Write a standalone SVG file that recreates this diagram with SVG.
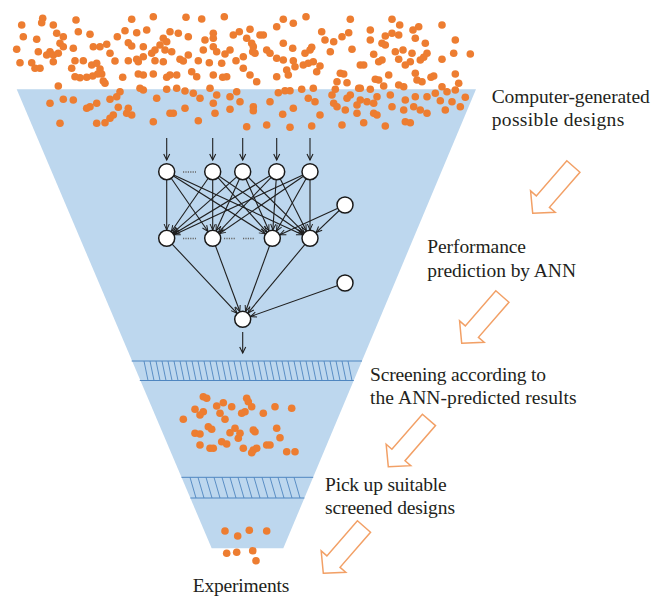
<svg xmlns="http://www.w3.org/2000/svg" width="654" height="596" viewBox="0 0 654 596">
<style>
.funnel{fill:#BDD7EE;stroke:none}
.d{fill:#ED7D31}
.band{stroke:#4F86C0;stroke-width:1;fill:none}
.hatch{stroke:#4F86C0;stroke-width:0.9}
.node{fill:#fff;stroke:#1a1a1a;stroke-width:1.5}
.conn{stroke:#1f1f1f;stroke-width:1.1;fill:none}
.dots{stroke:#666;stroke-width:1.3;stroke-dasharray:1.2 1.2;fill:none}
.arrow{fill:#fff;stroke:#F2A066;stroke-width:1.5;stroke-linejoin:miter}
.lbl{font-family:"Liberation Serif","Times New Roman",serif;font-size:19.5px;fill:#231F20}
</style>
<defs>
<marker id="ah" markerUnits="userSpaceOnUse" markerWidth="40" markerHeight="20" viewBox="-20 -10 40 20" refX="8.3" refY="0" orient="auto" overflow="visible">
<path d="M-6,-2.6 L0,0 L-6,2.6" fill="none" stroke="#1f1f1f" stroke-width="1"/>
</marker>
<marker id="ah0" markerUnits="userSpaceOnUse" markerWidth="40" markerHeight="20" viewBox="-20 -10 40 20" refX="0" refY="0" orient="auto" overflow="visible">
<path d="M-6,-3 L0,0 L-6,3" fill="none" stroke="#1f1f1f" stroke-width="1.1"/>
</marker>
<polygon id="blk" points="0,0 -15.5,-16.3 -15.5,-8.7 -62,-8.7 -62,8.7 -15.5,8.7 -15.5,16.3"/>
</defs>

<g id="funnel">
<polygon class="funnel" points="16.7,89.3 476,89.3 283.3,548.3 211.7,548.3"/>
</g>

<g id="band1">
<line class="band" x1="131.7" y1="361" x2="362" y2="361"/>
<line class="band" x1="139.8" y1="380.5" x2="353.8" y2="380.5"/>
<path class="hatch" d="M144,361l4,19.5M150,361l4,19.5M156,361l4,19.5M162,361l4,19.5M168,361l4,19.5M174,361l4,19.5M180,361l4,19.5M186,361l4,19.5M192,361l4,19.5M198,361l4,19.5M204,361l4,19.5M210,361l4,19.5M216,361l4,19.5M222,361l4,19.5M228,361l4,19.5M234,361l4,19.5M240,361l4,19.5M246,361l4,19.5M252,361l4,19.5M258,361l4,19.5M264,361l4,19.5M270,361l4,19.5M276,361l4,19.5M282,361l4,19.5M288,361l4,19.5M294,361l4,19.5M300,361l4,19.5M306,361l4,19.5M312,361l4,19.5M318,361l4,19.5M324,361l4,19.5M330,361l4,19.5M336,361l4,19.5M342,361l4,19.5M348,361l4,19.5"/>
</g>

<g id="band2">
<line class="band" x1="181.5" y1="477.3" x2="313.2" y2="477.3"/>
<line class="band" x1="190.4" y1="498" x2="304.4" y2="498"/>
<path class="hatch" d="M190,477.3l6,20.7M198,477.3l6,20.7M206,477.3l6,20.7M214,477.3l6,20.7M222,477.3l6,20.7M230,477.3l6,20.7M238,477.3l6,20.7M246,477.3l6,20.7M254,477.3l6,20.7M262,477.3l6,20.7M270,477.3l6,20.7M278,477.3l6,20.7M286,477.3l6,20.7M294,477.3l6,20.7"/>
</g>

<g id="designs-top">
<circle class="d" r="3.8" cx="42.7" cy="18.3"/><circle class="d" r="3.8" cx="41.7" cy="22.7"/><circle class="d" r="3.8" cx="21.7" cy="25"/><circle class="d" r="3.8" cx="53.3" cy="25"/><circle class="d" r="3.8" cx="76" cy="20"/><circle class="d" r="3.8" cx="131.7" cy="19.3"/><circle class="d" r="3.8" cx="153.3" cy="16.7"/><circle class="d" r="3.8" cx="186" cy="17.3"/><circle class="d" r="3.8" cx="201.7" cy="19"/><circle class="d" r="3.8" cx="224.3" cy="16.7"/><circle class="d" r="3.8" cx="283.3" cy="19.3"/><circle class="d" r="3.8" cx="306" cy="16.7"/><circle class="d" r="3.8" cx="293.3" cy="23.3"/><circle class="d" r="3.8" cx="276.7" cy="26.7"/><circle class="d" r="3.8" cx="250" cy="29.3"/><circle class="d" r="3.8" cx="239.3" cy="31.7"/><circle class="d" r="3.8" cx="213.3" cy="33.3"/><circle class="d" r="3.8" cx="233.3" cy="35"/><circle class="d" r="3.8" cx="260" cy="35"/><circle class="d" r="3.8" cx="263.3" cy="35"/><circle class="d" r="3.8" cx="170" cy="31.7"/><circle class="d" r="3.8" cx="178.3" cy="33.3"/><circle class="d" r="3.8" cx="146.7" cy="30"/><circle class="d" r="3.8" cx="125" cy="30.7"/><circle class="d" r="3.8" cx="136.7" cy="32.7"/><circle class="d" r="3.8" cx="78.3" cy="31.7"/><circle class="d" r="3.8" cx="90" cy="34.3"/><circle class="d" r="3.8" cx="56.7" cy="33.3"/><circle class="d" r="3.8" cx="63.3" cy="36.7"/><circle class="d" r="3.8" cx="36.7" cy="39.3"/><circle class="d" r="3.8" cx="23.3" cy="36.7"/><circle class="d" r="3.8" cx="188.3" cy="36.7"/><circle class="d" r="3.8" cx="205" cy="40"/><circle class="d" r="3.8" cx="213.3" cy="38.3"/><circle class="d" r="3.8" cx="163.3" cy="38.3"/><circle class="d" r="3.8" cx="166.7" cy="41.7"/><circle class="d" r="3.8" cx="160" cy="45"/><circle class="d" r="3.8" cx="106.7" cy="44.3"/><circle class="d" r="3.8" cx="100" cy="46.7"/><circle class="d" r="3.8" cx="93.3" cy="46.7"/><circle class="d" r="3.8" cx="73.3" cy="48.3"/><circle class="d" r="3.8" cx="60" cy="43.3"/><circle class="d" r="3.8" cx="63.3" cy="46.7"/><circle class="d" r="3.8" cx="50" cy="51.7"/><circle class="d" r="3.8" cx="53.3" cy="55"/><circle class="d" r="3.8" cx="58.3" cy="53.3"/><circle class="d" r="3.8" cx="38.3" cy="51.7"/><circle class="d" r="3.8" cx="16.7" cy="49.3"/><circle class="d" r="3.8" cx="20" cy="62.7"/><circle class="d" r="3.8" cx="31.7" cy="62.7"/><circle class="d" r="3.8" cx="35" cy="68.3"/><circle class="d" r="3.8" cx="40" cy="68.3"/><circle class="d" r="3.8" cx="53.3" cy="61.7"/><circle class="d" r="3.8" cx="46.7" cy="55"/><circle class="d" r="3.8" cx="75" cy="60.7"/><circle class="d" r="3.8" cx="83.3" cy="60.7"/><circle class="d" r="3.8" cx="91.7" cy="65"/><circle class="d" r="3.8" cx="96.7" cy="63.3"/><circle class="d" r="3.8" cx="100" cy="69"/><circle class="d" r="3.8" cx="71.7" cy="68.3"/><circle class="d" r="3.8" cx="115" cy="61"/><circle class="d" r="3.8" cx="128.3" cy="60.7"/><circle class="d" r="3.8" cx="138.3" cy="61.7"/><circle class="d" r="3.8" cx="143.3" cy="56.7"/><circle class="d" r="3.8" cx="136.7" cy="59.3"/><circle class="d" r="3.8" cx="155" cy="60.7"/><circle class="d" r="3.8" cx="163.3" cy="61.7"/><circle class="d" r="3.8" cx="180" cy="59.3"/><circle class="d" r="3.8" cx="183.3" cy="61"/><circle class="d" r="3.8" cx="198.3" cy="60.7"/><circle class="d" r="3.8" cx="209.3" cy="62.7"/><circle class="d" r="3.8" cx="221.7" cy="63.3"/><circle class="d" r="3.8" cx="236" cy="60.7"/><circle class="d" r="3.8" cx="243.3" cy="56.7"/><circle class="d" r="3.8" cx="252.7" cy="51.7"/><circle class="d" r="3.8" cx="255" cy="53.3"/><circle class="d" r="3.8" cx="266.7" cy="50"/><circle class="d" r="3.8" cx="270" cy="53.3"/><circle class="d" r="3.8" cx="276.7" cy="58.3"/><circle class="d" r="3.8" cx="283.3" cy="60"/><circle class="d" r="3.8" cx="293.3" cy="60.7"/><circle class="d" r="3.8" cx="295" cy="66.7"/><circle class="d" r="3.8" cx="303.3" cy="65"/><circle class="d" r="3.8" cx="286.7" cy="70"/><circle class="d" r="3.8" cx="288.3" cy="75"/><circle class="d" r="3.8" cx="276.7" cy="76.7"/><circle class="d" r="3.8" cx="256.7" cy="81.7"/><circle class="d" r="3.8" cx="250" cy="75"/><circle class="d" r="3.8" cx="243.3" cy="68.3"/><circle class="d" r="3.8" cx="226.7" cy="76.7"/><circle class="d" r="3.8" cx="222.7" cy="77.3"/><circle class="d" r="3.8" cx="213.3" cy="75"/><circle class="d" r="3.8" cx="196.7" cy="76.7"/><circle class="d" r="3.8" cx="191.7" cy="71.7"/><circle class="d" r="3.8" cx="176.7" cy="75"/><circle class="d" r="3.8" cx="170" cy="75"/><circle class="d" r="3.8" cx="166.7" cy="77.3"/><circle class="d" r="3.8" cx="153.3" cy="74"/><circle class="d" r="3.8" cx="143.3" cy="75"/><circle class="d" r="3.8" cx="138.3" cy="74"/><circle class="d" r="3.8" cx="122.7" cy="77.3"/><circle class="d" r="3.8" cx="101.7" cy="74"/><circle class="d" r="3.8" cx="97.7" cy="74"/><circle class="d" r="3.8" cx="92.7" cy="76"/><circle class="d" r="3.8" cx="86.7" cy="77.3"/><circle class="d" r="3.8" cx="80" cy="77.7"/><circle class="d" r="3.8" cx="75" cy="76.7"/><circle class="d" r="3.8" cx="105" cy="83.3"/><circle class="d" r="3.8" cx="103.3" cy="81"/><circle class="d" r="3.8" cx="58.3" cy="86"/><circle class="d" r="3.8" cx="110" cy="53.3"/><circle class="d" r="3.8" cx="117.3" cy="36.7"/><circle class="d" r="3.8" cx="128.3" cy="42.7"/><circle class="d" r="3.8" cx="131.7" cy="46"/><circle class="d" r="3.8" cx="143.3" cy="46.7"/><circle class="d" r="3.8" cx="151.7" cy="53.3"/><circle class="d" r="3.8" cx="155" cy="50"/><circle class="d" r="3.8" cx="165" cy="50"/><circle class="d" r="3.8" cx="171.7" cy="51.7"/><circle class="d" r="3.8" cx="188.3" cy="55"/><circle class="d" r="3.8" cx="203.3" cy="50"/><circle class="d" r="3.8" cx="213.3" cy="46.7"/><circle class="d" r="3.8" cx="216.7" cy="51.7"/><circle class="d" r="3.8" cx="225" cy="54"/><circle class="d" r="3.8" cx="230" cy="50"/><circle class="d" r="3.8" cx="246.7" cy="38.3"/><circle class="d" r="3.8" cx="251.7" cy="43.3"/><circle class="d" r="3.8" cx="253.3" cy="46.7"/><circle class="d" r="3.8" cx="283.3" cy="43.3"/><circle class="d" r="3.8" cx="292.7" cy="48.3"/><circle class="d" r="3.8" cx="305" cy="53.3"/><circle class="d" r="3.8" cx="310" cy="50"/><circle class="d" r="3.8" cx="311.7" cy="47.3"/><circle class="d" r="3.8" cx="308.3" cy="63.3"/><circle class="d" r="3.8" cx="313.3" cy="61.7"/><circle class="d" r="3.8" cx="320" cy="66"/><circle class="d" r="3.8" cx="321.7" cy="31.7"/><circle class="d" r="3.8" cx="325" cy="40"/><circle class="d" r="3.8" cx="316.7" cy="71.7"/><circle class="d" r="3.8" cx="313.3" cy="88.3"/><circle class="d" r="3.8" cx="301.7" cy="89.3"/><circle class="d" r="3.8" cx="290" cy="90.7"/><circle class="d" r="3.8" cx="285" cy="90.7"/><circle class="d" r="3.8" cx="278.3" cy="92.7"/><circle class="d" r="3.8" cx="270" cy="101.7"/><circle class="d" r="3.8" cx="253.3" cy="106.7"/><circle class="d" r="3.8" cx="253.3" cy="110.7"/><circle class="d" r="3.8" cx="246.7" cy="126.7"/><circle class="d" r="3.8" cx="266.7" cy="125"/><circle class="d" r="3.8" cx="282.7" cy="114.3"/><circle class="d" r="3.8" cx="290" cy="127.3"/><circle class="d" r="3.8" cx="311.7" cy="126"/><circle class="d" r="3.8" cx="320" cy="115"/><circle class="d" r="3.8" cx="315" cy="101.7"/><circle class="d" r="3.8" cx="308.3" cy="98.3"/><circle class="d" r="3.8" cx="293.3" cy="108.3"/><circle class="d" r="3.8" cx="236.7" cy="91.7"/><circle class="d" r="3.8" cx="230" cy="96.7"/><circle class="d" r="3.8" cx="216.7" cy="95"/><circle class="d" r="3.8" cx="210" cy="88.3"/><circle class="d" r="3.8" cx="200" cy="98.3"/><circle class="d" r="3.8" cx="193.3" cy="93.3"/><circle class="d" r="3.8" cx="185" cy="91"/><circle class="d" r="3.8" cx="176.7" cy="88.3"/><circle class="d" r="3.8" cx="166.7" cy="89.3"/><circle class="d" r="3.8" cx="156.7" cy="98.3"/><circle class="d" r="3.8" cx="143.3" cy="90"/><circle class="d" r="3.8" cx="140" cy="88.3"/><circle class="d" r="3.8" cx="120" cy="91.7"/><circle class="d" r="3.8" cx="116.7" cy="96.7"/><circle class="d" r="3.8" cx="110" cy="99.3"/><circle class="d" r="3.8" cx="96.7" cy="103.3"/><circle class="d" r="3.8" cx="90" cy="106.7"/><circle class="d" r="3.8" cx="86.7" cy="108.3"/><circle class="d" r="3.8" cx="73.3" cy="100"/><circle class="d" r="3.8" cx="63.3" cy="99.3"/><circle class="d" r="3.8" cx="50" cy="103.3"/><circle class="d" r="3.8" cx="60" cy="123.3"/><circle class="d" r="3.8" cx="96.7" cy="123.3"/><circle class="d" r="3.8" cx="105" cy="122.7"/><circle class="d" r="3.8" cx="110" cy="118.3"/><circle class="d" r="3.8" cx="113.3" cy="115"/><circle class="d" r="3.8" cx="126.7" cy="113.3"/><circle class="d" r="3.8" cx="131.7" cy="115"/><circle class="d" r="3.8" cx="128.3" cy="108.3"/><circle class="d" r="3.8" cx="118.3" cy="107.3"/><circle class="d" r="3.8" cx="153.3" cy="121.7"/><circle class="d" r="3.8" cx="170" cy="113.3"/><circle class="d" r="3.8" cx="173.3" cy="113.3"/><circle class="d" r="3.8" cx="185" cy="108.3"/><circle class="d" r="3.8" cx="198.3" cy="120.7"/><circle class="d" r="3.8" cx="215" cy="113.3"/><circle class="d" r="3.8" cx="230" cy="109.3"/><circle class="d" r="3.8" cx="240" cy="101.7"/><circle class="d" r="3.8" cx="213.3" cy="103.3"/>
<circle class="d" r="3.8" cx="350.3" cy="19.3"/><circle class="d" r="3.8" cx="392" cy="19.3"/><circle class="d" r="3.8" cx="399.7" cy="25"/><circle class="d" r="3.8" cx="418.7" cy="26.7"/><circle class="d" r="3.8" cx="413" cy="30"/><circle class="d" r="3.8" cx="442" cy="25"/><circle class="d" r="3.8" cx="370.3" cy="30"/><circle class="d" r="3.8" cx="348.7" cy="32.7"/><circle class="d" r="3.8" cx="342" cy="36.7"/><circle class="d" r="3.8" cx="370.3" cy="40"/><circle class="d" r="3.8" cx="385.3" cy="36"/><circle class="d" r="3.8" cx="392" cy="33.3"/><circle class="d" r="3.8" cx="398.7" cy="35"/><circle class="d" r="3.8" cx="415.3" cy="38.3"/><circle class="d" r="3.8" cx="425.3" cy="43.3"/><circle class="d" r="3.8" cx="382" cy="43.3"/><circle class="d" r="3.8" cx="385.3" cy="45"/><circle class="d" r="3.8" cx="352" cy="49.3"/><circle class="d" r="3.8" cx="333.7" cy="41.7"/><circle class="d" r="3.8" cx="330.3" cy="51.7"/><circle class="d" r="3.8" cx="373.7" cy="54.3"/><circle class="d" r="3.8" cx="395.3" cy="51.7"/><circle class="d" r="3.8" cx="403" cy="50"/><circle class="d" r="3.8" cx="412" cy="53.3"/><circle class="d" r="3.8" cx="427" cy="53.3"/><circle class="d" r="3.8" cx="442" cy="59.3"/><circle class="d" r="3.8" cx="453.7" cy="53.3"/><circle class="d" r="3.8" cx="455.3" cy="40"/><circle class="d" r="3.8" cx="470.3" cy="54"/><circle class="d" r="3.8" cx="382" cy="60"/><circle class="d" r="3.8" cx="378.7" cy="61.7"/><circle class="d" r="3.8" cx="360.3" cy="65"/><circle class="d" r="3.8" cx="363.7" cy="65"/><circle class="d" r="3.8" cx="398.7" cy="59.3"/><circle class="d" r="3.8" cx="410.3" cy="61.7"/><circle class="d" r="3.8" cx="420.3" cy="60"/><circle class="d" r="3.8" cx="423.7" cy="57.3"/><circle class="d" r="3.8" cx="405.3" cy="65"/><circle class="d" r="3.8" cx="388.7" cy="75"/><circle class="d" r="3.8" cx="375.3" cy="79.3"/><circle class="d" r="3.8" cx="378.7" cy="80"/><circle class="d" r="3.8" cx="340.3" cy="73.3"/><circle class="d" r="3.8" cx="343.7" cy="74"/><circle class="d" r="3.8" cx="337" cy="81.7"/><circle class="d" r="3.8" cx="347" cy="82.7"/><circle class="d" r="3.8" cx="358.7" cy="88.3"/><circle class="d" r="3.8" cx="360.3" cy="88.3"/><circle class="d" r="3.8" cx="370.3" cy="89.3"/><circle class="d" r="3.8" cx="383.7" cy="86"/><circle class="d" r="3.8" cx="398.7" cy="85"/><circle class="d" r="3.8" cx="403.7" cy="86.7"/><circle class="d" r="3.8" cx="417" cy="80"/><circle class="d" r="3.8" cx="422" cy="81.7"/><circle class="d" r="3.8" cx="415.3" cy="73.3"/><circle class="d" r="3.8" cx="431" cy="77.3"/><circle class="d" r="3.8" cx="433.7" cy="76"/><circle class="d" r="3.8" cx="455.3" cy="74"/><circle class="d" r="3.8" cx="458.7" cy="83.3"/><circle class="d" r="3.8" cx="442" cy="86.7"/><circle class="d" r="3.8" cx="447" cy="91.7"/><circle class="d" r="3.8" cx="455.3" cy="90"/><circle class="d" r="3.8" cx="465.3" cy="97.3"/><circle class="d" r="3.8" cx="460.3" cy="106.7"/><circle class="d" r="3.8" cx="452" cy="101.7"/><circle class="d" r="3.8" cx="440.3" cy="100.7"/><circle class="d" r="3.8" cx="435.3" cy="93.3"/><circle class="d" r="3.8" cx="427" cy="96.7"/><circle class="d" r="3.8" cx="415.3" cy="96.7"/><circle class="d" r="3.8" cx="405.3" cy="100"/><circle class="d" r="3.8" cx="390.3" cy="95"/><circle class="d" r="3.8" cx="377" cy="96.7"/><circle class="d" r="3.8" cx="373.7" cy="103.3"/><circle class="d" r="3.8" cx="367" cy="101.7"/><circle class="d" r="3.8" cx="357" cy="105"/><circle class="d" r="3.8" cx="360.3" cy="100"/><circle class="d" r="3.8" cx="350.3" cy="95"/><circle class="d" r="3.8" cx="347" cy="98.3"/><circle class="d" r="3.8" cx="332" cy="95"/><circle class="d" r="3.8" cx="335.3" cy="89.3"/><circle class="d" r="3.8" cx="333.7" cy="103.3"/><circle class="d" r="3.8" cx="337" cy="106.7"/><circle class="d" r="3.8" cx="345.3" cy="110"/><circle class="d" r="3.8" cx="357" cy="113.3"/><circle class="d" r="3.8" cx="373.7" cy="113.3"/><circle class="d" r="3.8" cx="377" cy="115"/><circle class="d" r="3.8" cx="392" cy="106.7"/><circle class="d" r="3.8" cx="403.7" cy="110"/><circle class="d" r="3.8" cx="413.7" cy="106.7"/><circle class="d" r="3.8" cx="420.3" cy="110"/><circle class="d" r="3.8" cx="427" cy="113.3"/><circle class="d" r="3.8" cx="445.3" cy="110"/><circle class="d" r="3.8" cx="342" cy="125"/><circle class="d" r="3.8" cx="363.7" cy="122.7"/><circle class="d" r="3.8" cx="385.3" cy="126"/><circle class="d" r="3.8" cx="405.3" cy="121.7"/><circle class="d" r="3.8" cx="410.3" cy="122.7"/>
</g>

<g id="designs-screened">
<circle class="d" r="3.8" cx="203.3" cy="396.7"/><circle class="d" r="3.8" cx="206.7" cy="398.3"/><circle class="d" r="3.8" cx="246.7" cy="398.3"/><circle class="d" r="3.8" cx="248.3" cy="401.7"/><circle class="d" r="3.8" cx="195" cy="409.3"/><circle class="d" r="3.8" cx="203.3" cy="411.7"/><circle class="d" r="3.8" cx="200" cy="415"/><circle class="d" r="3.8" cx="216.7" cy="406"/><circle class="d" r="3.8" cx="223.3" cy="402.7"/><circle class="d" r="3.8" cx="231.7" cy="406.7"/><circle class="d" r="3.8" cx="220" cy="413.3"/><circle class="d" r="3.8" cx="225" cy="419.3"/><circle class="d" r="3.8" cx="241.7" cy="413.3"/><circle class="d" r="3.8" cx="245" cy="411.7"/><circle class="d" r="3.8" cx="251.7" cy="406.7"/><circle class="d" r="3.8" cx="263.3" cy="413.3"/><circle class="d" r="3.8" cx="275" cy="406.7"/><circle class="d" r="3.8" cx="291.7" cy="408.3"/><circle class="d" r="3.8" cx="183.3" cy="419.3"/><circle class="d" r="3.8" cx="208.3" cy="426.7"/><circle class="d" r="3.8" cx="211.7" cy="429.3"/><circle class="d" r="3.8" cx="195" cy="433.3"/><circle class="d" r="3.8" cx="200" cy="434"/><circle class="d" r="3.8" cx="230" cy="432.7"/><circle class="d" r="3.8" cx="235" cy="428.3"/><circle class="d" r="3.8" cx="240" cy="433.3"/><circle class="d" r="3.8" cx="238.3" cy="438.3"/><circle class="d" r="3.8" cx="253.3" cy="430"/><circle class="d" r="3.8" cx="255" cy="431.7"/><circle class="d" r="3.8" cx="276.7" cy="428.3"/><circle class="d" r="3.8" cx="280" cy="437.7"/><circle class="d" r="3.8" cx="200" cy="445"/><circle class="d" r="3.8" cx="210" cy="448.3"/><circle class="d" r="3.8" cx="213.3" cy="448.3"/><circle class="d" r="3.8" cx="221.7" cy="441.7"/><circle class="d" r="3.8" cx="226.7" cy="444"/><circle class="d" r="3.8" cx="243.3" cy="448.3"/><circle class="d" r="3.8" cx="253.3" cy="450"/><circle class="d" r="3.8" cx="256.7" cy="448.3"/><circle class="d" r="3.8" cx="251.7" cy="452.7"/><circle class="d" r="3.8" cx="266.7" cy="445"/><circle class="d" r="3.8" cx="270" cy="445"/><circle class="d" r="3.8" cx="286.7" cy="451.7"/><circle class="d" r="3.8" cx="295" cy="451.7"/>
</g>

<g id="designs-picked">
<circle class="d" r="3.8" cx="225" cy="531"/><circle class="d" r="3.8" cx="237.7" cy="536"/><circle class="d" r="3.8" cx="249.3" cy="530.3"/><circle class="d" r="3.8" cx="266.7" cy="531"/><circle class="d" r="3.8" cx="226.7" cy="553.3"/><circle class="d" r="3.8" cx="236.7" cy="552.3"/><circle class="d" r="3.8" cx="252.7" cy="550.7"/><circle class="d" r="3.8" cx="256" cy="560.7"/>
</g>

<g id="connectors">
<line class="conn" x1="166.7" y1="138" x2="166.7" y2="160" marker-end="url(#ah0)"/>
<line class="conn" x1="212.7" y1="138" x2="212.7" y2="160" marker-end="url(#ah0)"/>
<line class="conn" x1="242.7" y1="138" x2="242.7" y2="160" marker-end="url(#ah0)"/>
<line class="conn" x1="276.7" y1="138" x2="276.7" y2="160" marker-end="url(#ah0)"/>
<line class="conn" x1="310" y1="138" x2="310" y2="160" marker-end="url(#ah0)"/>
<line class="conn" x1="166.7" y1="171.7" x2="166.7" y2="238.3" marker-end="url(#ah)"/>
<line class="conn" x1="166.7" y1="171.7" x2="212.7" y2="238.3" marker-end="url(#ah)"/>
<line class="conn" x1="166.7" y1="171.7" x2="272.3" y2="238.3" marker-end="url(#ah)"/>
<line class="conn" x1="166.7" y1="171.7" x2="310" y2="238.3" marker-end="url(#ah)"/>
<line class="conn" x1="212.7" y1="171.7" x2="166.7" y2="238.3" marker-end="url(#ah)"/>
<line class="conn" x1="212.7" y1="171.7" x2="212.7" y2="238.3" marker-end="url(#ah)"/>
<line class="conn" x1="212.7" y1="171.7" x2="272.3" y2="238.3" marker-end="url(#ah)"/>
<line class="conn" x1="212.7" y1="171.7" x2="310" y2="238.3" marker-end="url(#ah)"/>
<line class="conn" x1="242.7" y1="171.7" x2="166.7" y2="238.3" marker-end="url(#ah)"/>
<line class="conn" x1="242.7" y1="171.7" x2="212.7" y2="238.3" marker-end="url(#ah)"/>
<line class="conn" x1="242.7" y1="171.7" x2="272.3" y2="238.3" marker-end="url(#ah)"/>
<line class="conn" x1="242.7" y1="171.7" x2="310" y2="238.3" marker-end="url(#ah)"/>
<line class="conn" x1="276.7" y1="171.7" x2="166.7" y2="238.3" marker-end="url(#ah)"/>
<line class="conn" x1="276.7" y1="171.7" x2="212.7" y2="238.3" marker-end="url(#ah)"/>
<line class="conn" x1="276.7" y1="171.7" x2="272.3" y2="238.3" marker-end="url(#ah)"/>
<line class="conn" x1="276.7" y1="171.7" x2="310" y2="238.3" marker-end="url(#ah)"/>
<line class="conn" x1="310" y1="171.7" x2="166.7" y2="238.3" marker-end="url(#ah)"/>
<line class="conn" x1="310" y1="171.7" x2="212.7" y2="238.3" marker-end="url(#ah)"/>
<line class="conn" x1="310" y1="171.7" x2="272.3" y2="238.3" marker-end="url(#ah)"/>
<line class="conn" x1="310" y1="171.7" x2="310" y2="238.3" marker-end="url(#ah)"/>
<line class="conn" x1="345" y1="205" x2="272.3" y2="238.3" marker-end="url(#ah)"/>
<line class="conn" x1="345" y1="205" x2="310" y2="238.3" marker-end="url(#ah)"/>
<line class="conn" x1="166.7" y1="238.3" x2="242.7" y2="319.3" marker-end="url(#ah)"/>
<line class="conn" x1="212.7" y1="238.3" x2="242.7" y2="319.3" marker-end="url(#ah)"/>
<line class="conn" x1="272.3" y1="238.3" x2="242.7" y2="319.3" marker-end="url(#ah)"/>
<line class="conn" x1="310" y1="238.3" x2="242.7" y2="319.3" marker-end="url(#ah)"/>
<line class="conn" x1="345" y1="283" x2="242.7" y2="319.3" marker-end="url(#ah)"/>
<line class="conn" x1="242.7" y1="332" x2="242.7" y2="353" marker-end="url(#ah0)"/>
<path class="dots" d="M183,172H196M183,238.5H196M224,238.5H236M243,238.5H255"/>
</g>

<g id="in1"><circle class="node" cx="166.7" cy="171.7" r="8"/></g>
<g id="in2"><circle class="node" cx="212.7" cy="171.7" r="8"/></g>
<g id="in3"><circle class="node" cx="242.7" cy="171.7" r="8"/></g>
<g id="in4"><circle class="node" cx="276.7" cy="171.7" r="8"/></g>
<g id="in5"><circle class="node" cx="310" cy="171.7" r="8"/></g>
<g id="hid1"><circle class="node" cx="166.7" cy="238.3" r="8"/></g>
<g id="hid2"><circle class="node" cx="212.7" cy="238.3" r="8"/></g>
<g id="hid3"><circle class="node" cx="272.3" cy="238.3" r="8"/></g>
<g id="hid4"><circle class="node" cx="310" cy="238.3" r="8"/></g>
<g id="bias1"><circle class="node" cx="345" cy="205" r="8"/></g>
<g id="bias2"><circle class="node" cx="345" cy="283" r="8"/></g>
<g id="out"><circle class="node" cx="242.7" cy="319.3" r="8"/></g>

<g id="step-arrows">
<use href="#blk" class="arrow" transform="translate(532.7,213.3) rotate(131)"/>
<use href="#blk" class="arrow" transform="translate(461.7,343.3) rotate(131)"/>
<use href="#blk" class="arrow" transform="translate(388.3,466.7) rotate(131)"/>
<use href="#blk" class="arrow" transform="translate(323.3,573.3) rotate(131)"/>
</g>

<g id="labels">
<text class="lbl" x="491.7" y="102.7" textLength="158">Computer-generated</text>
<text class="lbl" x="491.7" y="125.5" textLength="132.6">possible designs</text>
<text class="lbl" x="427.3" y="253" textLength="98.7">Performance</text>
<text class="lbl" x="427.3" y="276.5" textLength="148.7">prediction by ANN</text>
<text class="lbl" x="370" y="380.7" textLength="176">Screening according to</text>
<text class="lbl" x="370" y="403.5" textLength="206.7">the ANN-predicted results</text>
<text class="lbl" x="325" y="490.7" textLength="121.7">Pick up suitable</text>
<text class="lbl" x="325" y="513.5" textLength="130">screened designs</text>
<text class="lbl" x="192.7" y="591.5" textLength="96.7">Experiments</text>
</g>
</svg>
